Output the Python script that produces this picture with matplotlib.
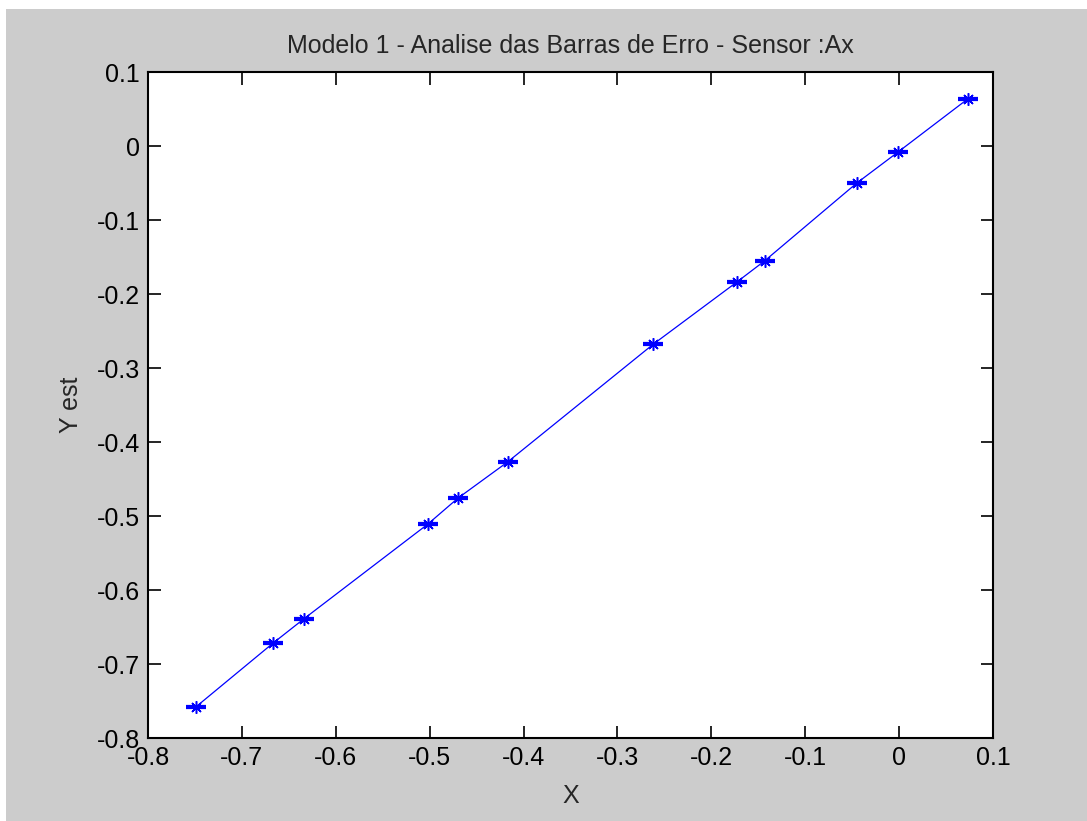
import matplotlib
matplotlib.use("Agg")
import matplotlib.pyplot as plt
from matplotlib.patches import Rectangle

x_vals = [-0.749, -0.667, -0.634, -0.502, -0.470, -0.417, -0.262, -0.173, -0.143, -0.045, -0.001, 0.073]
y_vals = [-0.758, -0.672, -0.639, -0.511, -0.476, -0.427, -0.268, -0.184, -0.155, -0.050, -0.008, 0.0635]
y_err = [0.0012] * len(x_vals)

x_ticks = [-0.8, -0.7, -0.6, -0.5, -0.4, -0.3, -0.2, -0.1, 0, 0.1]
y_ticks = [0.1, 0, -0.1, -0.2, -0.3, -0.4, -0.5, -0.6, -0.7, -0.8]

title = "Modelo 1 - Analise das Barras de Erro - Sensor :Ax"

plt.rcParams['font.family'] = ['Liberation Sans', 'DejaVu Sans']
W, H = 1087, 821
fig = plt.figure(figsize=(W / 100, H / 100), dpi=100, facecolor='#cccccc')
# white screenshot border strips
fig.patches.append(Rectangle((0, 1 - 9 / H), 1, 9 / H, transform=fig.transFigure,
                             facecolor='white', edgecolor='none', zorder=-1))
fig.patches.append(Rectangle((0, 0), 6 / W, 1, transform=fig.transFigure,
                             facecolor='white', edgecolor='none', zorder=-1))

ax = fig.add_axes([148 / W, 1 - 738 / H, (993 - 148) / W, (738 - 72) / H])
ax.set_facecolor('white')

ax.plot(x_vals, y_vals, color='#0000ff', lw=0.9, marker=(8, 2, 0), ms=9, mew=1.1)
ax.errorbar(x_vals, y_vals, yerr=y_err, fmt='none', ecolor='#0000ff', elinewidth=1.0,
            capsize=7, capthick=1.6)

ax.set_xlim(-0.8, 0.1)
ax.set_ylim(-0.8, 0.1)
ax.set_xticks(x_ticks)
ax.set_yticks(y_ticks)
ax.set_xticklabels([f"{t:g}" for t in x_ticks])
ax.set_yticklabels([f"{t:g}" for t in y_ticks])
ax.tick_params(direction='in', length=9, width=1.2, top=True, right=True,
               labelsize=18, colors='black', pad=6)
for s in ax.spines.values():
    s.set_linewidth(1.5)
    s.set_color('black')

ax.set_title(title, fontsize=18, color='#262626', pad=14)
ax.set_xlabel("X", fontsize=18, color='#262626', labelpad=10)
ax.set_ylabel("Y est", fontsize=18, color='#262626', labelpad=10)

fig.savefig("out.png", dpi=100, facecolor=fig.get_facecolor())
